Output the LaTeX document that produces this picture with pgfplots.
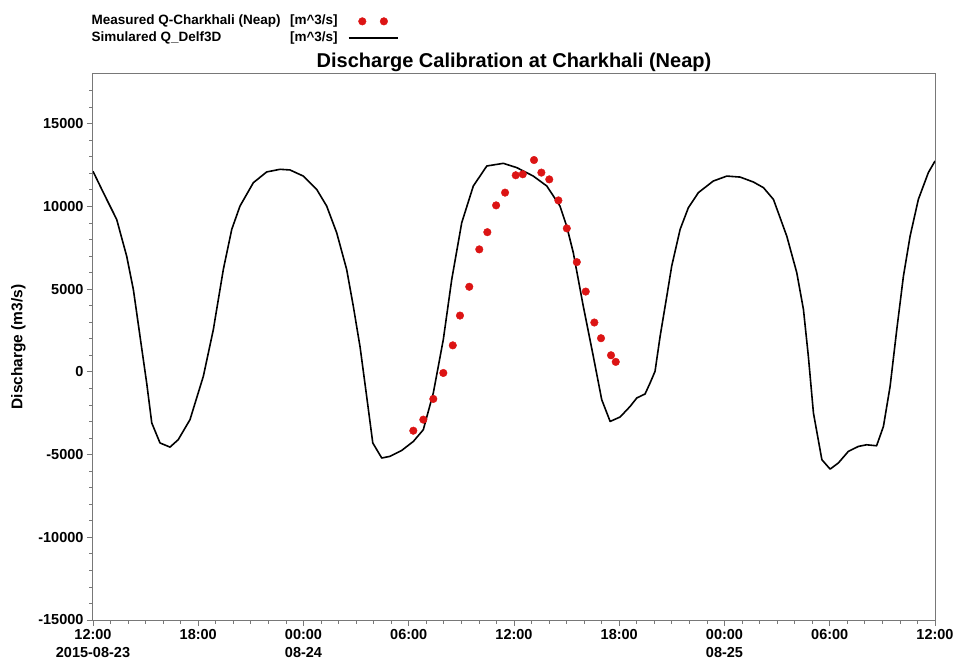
\documentclass[border=0pt]{standalone}
\usepackage{pgfplots}
\pgfplotsset{compat=1.18}
\usepackage{fontspec}
\setmainfont{Liberation Sans}
\definecolor{measred}{RGB}{220,20,20}
\definecolor{framegray}{RGB}{120,120,120}
\begin{document}
\begin{tikzpicture}
\useasboundingbox (0,0) rectangle (958pt,664pt);
\begin{axis}[
  at={(93pt,44pt)}, anchor=south west,
  scale only axis, width=842pt, height=546pt,
  xmin=0, xmax=48, ymin=-15000, ymax=18000,
  scaled y ticks=false,
  xtick={0,6,12,18,24,30,36,42,48},
  xticklabels={{12:00\\2015-08-23},{18:00},{00:00\\08-24},{06:00},{12:00},{18:00},{00:00\\08-25},{06:00},{12:00}},
  ytick={-15000,-10000,-5000,0,5000,10000,15000},
  yticklabels={-15000,-10000,-5000,0,5000,10000,15000},
  minor xtick={1,2,3,4,5,7,8,9,10,11,13,14,15,16,17,19,20,21,22,23,25,26,27,28,29,31,32,33,34,35,37,38,39,40,41,43,44,45,46,47},
  minor ytick={-14000,-13000,-12000,-11000,-9000,-8000,-7000,-6000,-4000,-3000,-2000,-1000,1000,2000,3000,4000,6000,7000,8000,9000,11000,12000,13000,14000,16000,17000},
  tick align=outside, tick pos=left,
  major tick length=6pt, minor tick length=3.5pt,
  axis line style={framegray, line width=1pt},
  every tick/.style={framegray, line width=0.8pt},
  xticklabel style={font=\bfseries\fontsize{14.5}{17.5}\selectfont, align=center, text=black},
  yticklabel style={font=\bfseries\fontsize{14.5}{17}\selectfont, text=black},
  title={Discharge Calibration at Charkhali (Neap)},
  title style={font=\bfseries\fontsize{20}{23}\selectfont, at={(axis description cs:0.5,1)}, anchor=base, yshift=0.7pt},
  ylabel={Discharge (m3/s)},
  ylabel style={font=\bfseries\fontsize{15.5}{17}\selectfont, at={(axis description cs:-0.0887,0.5)}, anchor=center},
  reverse legend,
  legend plot pos=right,
  legend cell align=left,
  legend style={at={(axis description cs:0,1)}, anchor=north west, xshift=-1.3pt, yshift=61pt,
    draw=none, fill=none, inner sep=0pt, outer sep=0pt, column sep=10pt, row sep=0pt,
    font=\bfseries\fontsize{13.5}{15}\selectfont,
    nodes={inner sep=0pt, text height=12pt, text depth=4.7pt}},
]
\addplot[black, line width=1.6pt, line join=round,
  legend image code/.code={\draw[black, line width=1.8pt] (0pt,0pt) -- (49pt,0pt);}]
coordinates {
(0,12120) (0.59,10830) (1.35,9210) (1.92,6990) (2.30,4980) (2.68,2150) (3.06,-670) (3.35,-3090) (3.82,-4300) (4.39,-4550) (4.86,-4100) (5.53,-2890) (6.29,-270) (6.86,2550) (7.43,6190) (7.91,8610) (8.38,10020) (9.14,11430) (9.90,12080) (10.66,12240) (11.23,12200) (11.99,11830) (12.75,11030) (13.32,10020) (13.89,8410) (14.46,6190) (14.84,3960) (15.22,1540) (15.60,-1480) (15.95,-4300) (16.46,-5210) (16.93,-5110) (17.6,-4750) (18.26,-4210) (18.83,-3500) (19.40,-1280) (19.97,1950) (20.45,5580) (21.02,9010) (21.68,11230) (22.45,12440) (23.39,12600) (24.16,12340) (25.10,11830) (25.87,11230) (26.62,10020) (27.00,8810) (27.38,7200) (27.95,3960) (28.52,940) (29.0,-1680) (29.48,-3000) (30.05,-2730) (30.62,-2090) (31.0,-1580) (31.47,-1340) (31.76,-670) (32.04,30) (32.33,2150) (32.71,4570) (32.99,6390) (33.47,8610) (33.94,9920) (34.51,10830) (35.36,11530) (36.13,11830) (36.89,11770) (37.65,11470) (38.22,11130) (38.79,10420) (39.55,8200) (40.12,5990) (40.50,3770) (40.78,940) (41.07,-2490) (41.55,-5310) (42.02,-5880) (42.49,-5510) (43.06,-4810) (43.63,-4510) (44.10,-4410) (44.67,-4470) (45.06,-3300) (45.44,-880) (45.82,2550) (46.20,5780) (46.58,8200) (47.05,10420) (47.62,12040) (48.0,12740)
};
\addlegendentry{\makebox[246pt][l]{Simulared Q\_Delf3D\hfill[m\textasciicircum 3/s]}}
\addplot[only marks, mark=*, mark size=3.8pt, color=measred,
  legend image code/.code={\fill[measred] (13.7pt,0pt) circle (3.8pt); \fill[measred] (35.3pt,0pt) circle (3.8pt); \path[draw=none, fill=none] (0pt,0pt) -- (49pt,0pt);}]
coordinates {
(18.26,-3560) (18.83,-2890) (19.40,-1640) (19.97,-70) (20.51,1600) (20.92,3400) (21.45,5140) (22.02,7400) (22.48,8440) (22.98,10060) (23.49,10830) (24.10,11880) (24.50,11940) (25.14,12800) (25.56,12040) (26.01,11630) (26.53,10360) (27.01,8670) (27.58,6630) (28.09,4850) (28.58,2980) (28.96,2030) (29.53,1000) (29.80,600)
};
\addlegendentry{\makebox[246pt][l]{Measured Q-Charkhali (Neap)\hfill[m\textasciicircum 3/s]}}
\end{axis}
\end{tikzpicture}
\end{document}
